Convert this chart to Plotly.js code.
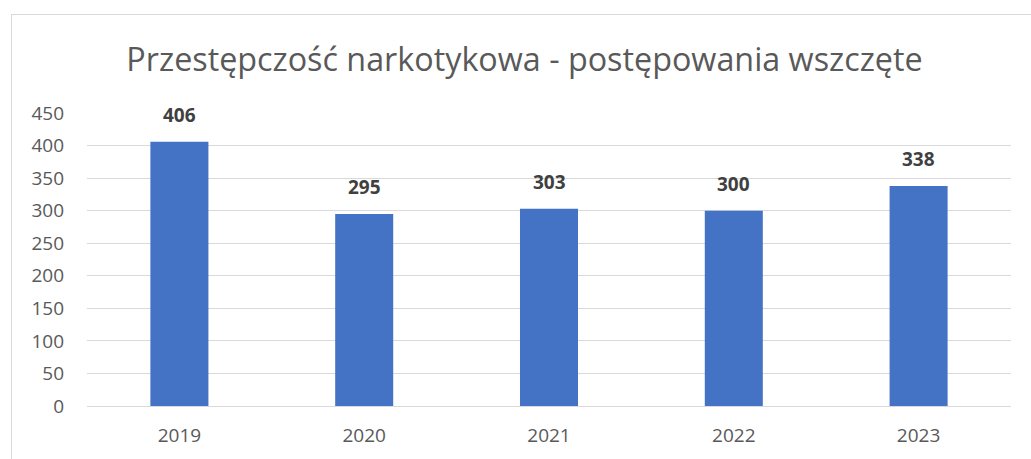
<!DOCTYPE html>
<html>
<head>
<meta charset="utf-8">
<script src="https://cdn.plot.ly/plotly-3.0.1.min.js"></script>
<style>
html,body{margin:0;padding:0;background:#fff;}
#chart{width:1031px;height:459px;position:absolute;left:0;top:0;}
#frame{position:absolute;left:11px;top:14px;width:1040px;height:460px;border:1px solid #d9d9d9;pointer-events:none;}
</style>
</head>
<body>
<div id="frame"></div>
<div id="chart"></div>
<script>
const years = ['2019', '2020', '2021', '2022', '2023'];
const cases = [406, 295, 303, 300, 338];
const yTicks = [0, 50, 100, 150, 200, 250, 300, 350, 400, 450];
const chartTitle = 'Przestępczość narkotykowa - postępowania wszczęte';

const trace = {
  type: 'bar',
  x: years,
  y: cases,
  marker: {color: '#4472C4'},
  hoverinfo: 'none'
};

// category axis: annotation x is the category index
const labels = years.map((yr, i) => ({
  x: i,
  y: cases[i],
  xref: 'x',
  yref: 'y',
  text: '<b>' + cases[i] + '</b>',
  showarrow: false,
  yanchor: 'bottom',
  yshift: 12,
  font: {family: 'Open Sans, sans-serif', size: 19, color: '#404040'}
}));

const layout = {
  width: 1031,
  height: 459,
  margin: {l: 86.5, r: 19.5, t: 113, b: 53},
  paper_bgcolor: 'rgba(0,0,0,0)',
  plot_bgcolor: 'rgba(0,0,0,0)',
  bargap: 0.686,
  showlegend: false,
  annotations: labels,
  title: {
    text: chartTitle,
    font: {family: 'Open Sans, sans-serif', size: 32.3, color: '#595959'},
    x: 0.5087, xanchor: 'center',
    y: 0.87, yanchor: 'middle'
  },
  xaxis: {
    type: 'category',
    categoryorder: 'array',
    categoryarray: years,
    range: [-0.5, years.length - 0.5],
    tickfont: {family: 'Open Sans, sans-serif', size: 19, color: '#595959'},
    showgrid: false,
    showline: true,
    linecolor: '#d9d9d9',
    linewidth: 1,
    ticks: '',
    ticklen: 0,
    zeroline: false,
    ticklabelstandoff: 12
  },
  yaxis: {
    range: [0, 450],
    tickvals: yTicks,
    ticktext: yTicks.map(String),
    tickfont: {family: 'Open Sans, sans-serif', size: 19, color: '#595959'},
    showgrid: true,
    gridcolor: '#d9d9d9',
    gridwidth: 1,
    zeroline: false,
    showline: false,
    ticks: '',
    ticklabelstandoff: 22
  }
};

Plotly.newPlot('chart', [trace], layout, {staticPlot: true, displayModeBar: false});
</script>
</body>
</html>
